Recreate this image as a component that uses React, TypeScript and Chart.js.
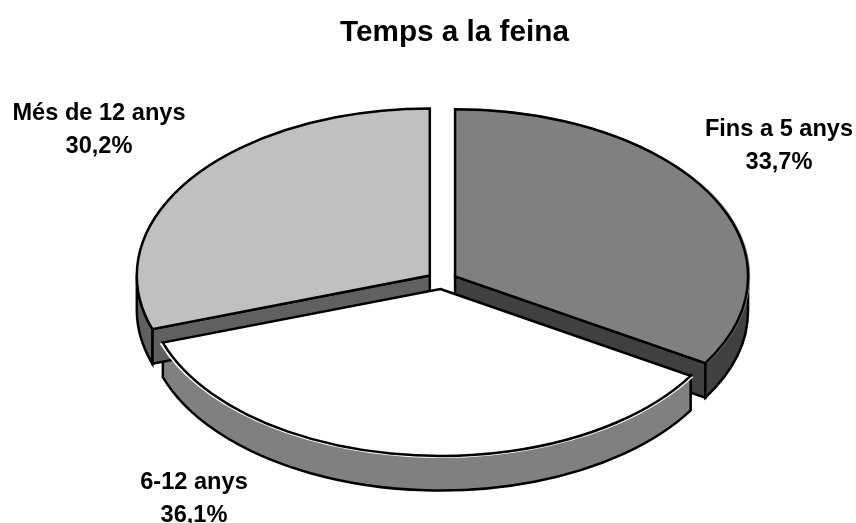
import React, { useEffect, useRef } from "react";
import { Chart, registerables } from "chart.js";

Chart.register(...registerables);

const TITLE = "Temps a la feina";
const categories = ["Fins a 5 anys", "6-12 anys", "Més de 12 anys"];
const values = [33.7, 36.1, 30.2];
const valueLabels = ["33,7%", "36,1%", "30,2%"];
const topColors = ["#808080", "#FFFFFF", "#C0C0C0"];
const wallColors = ["#404040", "#808080", "#606060"];
const labelShifts = [
  [337, -134.5],
  [-248, 218],
  [-343, -150.5],
];

const FONT = '"Liberation Sans", Arial, sans-serif';
const CENTER = { x: 442, y: 280.5 };
const SQUASH = 0.57;
const DEPTH = 34.5;
const OFFSET_OPTION = 60;
const RADIUS = 293;
const LINE = 2.5;

function geometry(el: any) {
  const off = (el.options.offset || 0) / 4;
  const mid = (el.startAngle + el.endAngle) / 2;
  const cx = CENTER.x + Math.cos(mid) * off;
  const cy = CENTER.y + Math.sin(mid) * off * SQUASH;
  const rx = el.outerRadius;
  const ry = rx * SQUASH;
  return { cx, cy, rx, ry, a0: el.startAngle, a1: el.endAngle };
}

function paint(ctx: CanvasRenderingContext2D, fill: string | null) {
  if (fill) {
    ctx.fillStyle = fill;
    ctx.fill();
  }
  ctx.strokeStyle = "#000000";
  ctx.lineWidth = LINE;
  ctx.lineJoin = "miter";
  ctx.stroke();
}

function radialFace(ctx: CanvasRenderingContext2D, g: any, angle: number, color: string) {
  const ex = g.cx + Math.cos(angle) * g.rx;
  const ey = g.cy + Math.sin(angle) * g.ry;
  ctx.beginPath();
  ctx.moveTo(g.cx, g.cy);
  ctx.lineTo(ex, ey);
  ctx.lineTo(ex, ey + DEPTH);
  ctx.lineTo(g.cx, g.cy + DEPTH);
  ctx.closePath();
  paint(ctx, color);
}

function outerWall(ctx: CanvasRenderingContext2D, g: any, color: string) {
  const from = Math.max(g.a0, 0);
  const to = Math.min(g.a1, Math.PI);
  if (to <= from) return;
  ctx.beginPath();
  ctx.ellipse(g.cx, g.cy, g.rx, g.ry, 0, from, to, false);
  ctx.ellipse(g.cx, g.cy + DEPTH, g.rx, g.ry, 0, to, from, true);
  ctx.closePath();
  paint(ctx, color);
}

const pie3d = {
  id: "pie3d",
  beforeDatasetsDraw(chart: any) {
    const ctx = chart.ctx as CanvasRenderingContext2D;
    const arcs = chart.getDatasetMeta(0).data;
    arcs.forEach((el: any, i: number) => {
      const g = geometry(el);
      if (Math.cos(g.a0) < -1e-6) radialFace(ctx, g, g.a0, wallColors[i]);
      if (Math.cos(g.a1) > 1e-6) radialFace(ctx, g, g.a1, wallColors[i]);
      outerWall(ctx, g, wallColors[i]);
    });
    const first = arcs[0];
    ctx.save();
    ctx.translate(CENTER.x, CENTER.y);
    ctx.scale(1, SQUASH);
    ctx.translate(-first.x, -first.y);
  },
  afterDatasetsDraw(chart: any) {
    const ctx = chart.ctx as CanvasRenderingContext2D;
    ctx.restore();
    const arcs = chart.getDatasetMeta(0).data;
    arcs.forEach((el: any) => {
      const g = geometry(el);
      ctx.beginPath();
      ctx.moveTo(g.cx, g.cy);
      ctx.ellipse(g.cx, g.cy, g.rx, g.ry, 0, g.a0, g.a1, false);
      ctx.closePath();
      paint(ctx, null);
    });
    ctx.fillStyle = "#000000";
    ctx.font = `bold 23.6px ${FONT}`;
    ctx.textAlign = "center";
    ctx.textBaseline = "middle";
    categories.forEach((name, i) => {
      const x = CENTER.x + labelShifts[i][0];
      const y = CENTER.y + labelShifts[i][1];
      ctx.fillText(name, x, y - 16.5);
      ctx.fillText(valueLabels[i], x, y + 16.5);
    });
  },
};

export default function App() {
  const ref = useRef<HTMLCanvasElement>(null);
  useEffect(() => {
    document.body.style.margin = "0";
    const chart = new Chart(ref.current as HTMLCanvasElement, {
      type: "pie",
      data: {
        labels: categories,
        datasets: [
          {
            data: values,
            backgroundColor: topColors,
            borderWidth: 0,
            offset: OFFSET_OPTION,
            radius: RADIUS,
            clip: false,
          } as any,
        ],
      },
      options: {
        responsive: false,
        animation: false,
        events: [],
        layout: { padding: { left: 53, right: 0, top: 0, bottom: 0 } },
        plugins: {
          legend: { display: false },
          tooltip: { enabled: false },
          title: {
            display: true,
            text: TITLE,
            color: "#000000",
            font: { family: FONT, size: 29.7, weight: "bold" },
            padding: { top: 15, bottom: 10 },
          },
        },
      },
      plugins: [pie3d],
    } as any);
    return () => chart.destroy();
  }, []);
  return <canvas ref={ref} width={856} height={523} style={{ display: "block" }} />;
}
